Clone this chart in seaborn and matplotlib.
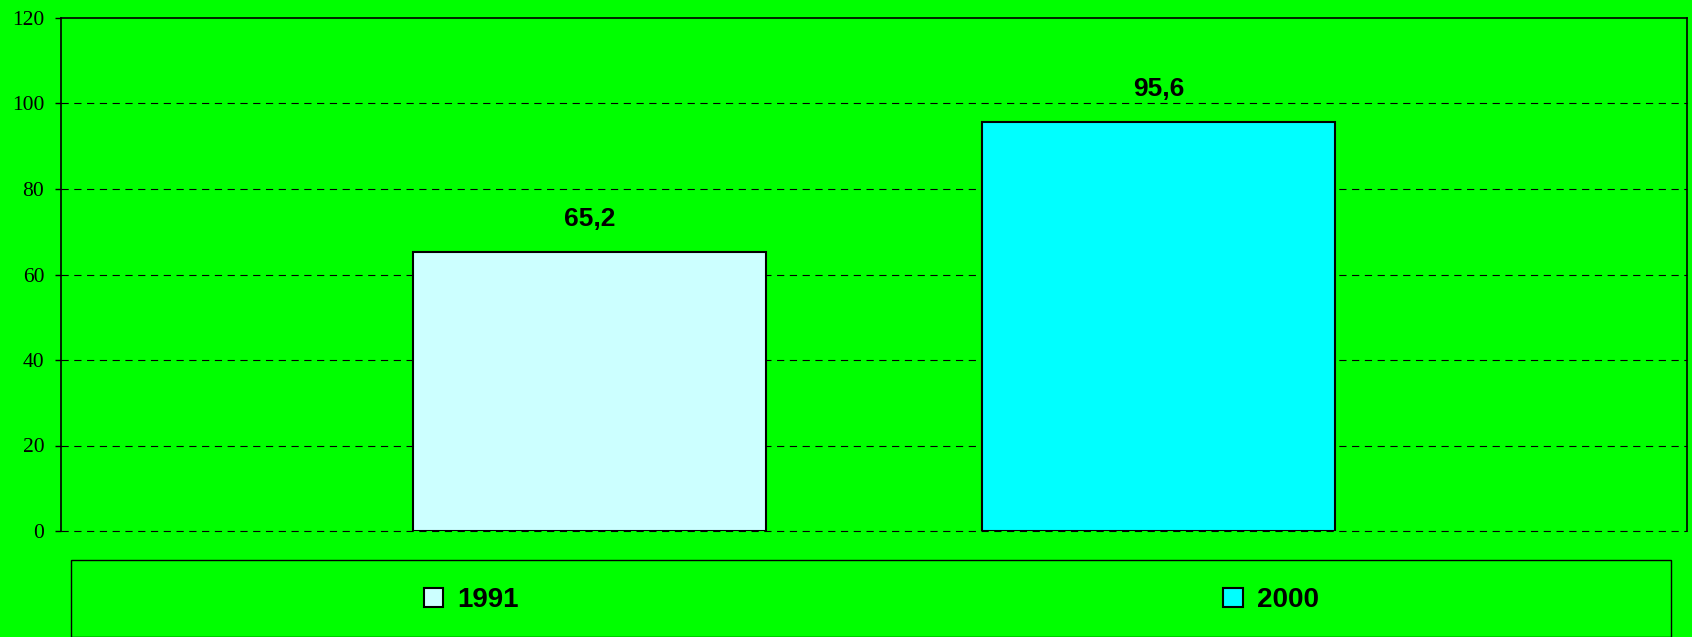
import matplotlib
matplotlib.use("Agg")
import matplotlib.pyplot as plt
import pandas as pd
import seaborn as sns
from matplotlib.patches import Rectangle

years = ["1991", "2000"]
values = [65.2, 95.6]
bar_colors = ["#CCFFFF", "#00FFFF"]
yticks = [0, 20, 40, 60, 80, 100, 120]

df = pd.DataFrame({"group": [""] * len(years), "year": years, "value": values})

sns.set_style("white")
plt.rcParams["font.family"] = ["Liberation Sans", "DejaVu Sans"]
plt.rcParams["text.color"] = "black"
plt.rcParams["ytick.color"] = "black"
plt.rcParams["ytick.labelcolor"] = "black"

W, H = 1692, 637
fig = plt.figure(figsize=(W / 100, H / 100), dpi=100, facecolor="#00FF00")
ax = fig.add_axes([61 / W, (H - 531) / H, 1626 / W, 513 / H])
ax.set_facecolor("#00FF00")

sns.barplot(
    data=df, x="group", y="value", hue="year",
    palette=bar_colors, saturation=1, width=0.7, gap=0.38,
    edgecolor="black", linewidth=1.5, ax=ax, legend=False,
)
ax.set_xlim(-0.5, 0.5)
ax.set_ylim(0, 120)
ax.set_yticks(yticks)
ax.set_xticks([])
ax.set_xlabel("")
ax.set_ylabel("")

# dashed gridlines (the one at 0 replaces the bottom spine)
for y in yticks[:-1]:
    ax.axhline(y, color="black", linewidth=0.8, linestyle=(0, (6.5, 5)),
               zorder=0.5 if y else 3, clip_on=False)

for side in ["left", "top", "right"]:
    ax.spines[side].set_visible(True)
    ax.spines[side].set_color("black")
    ax.spines[side].set_linewidth(1.2)
ax.spines["bottom"].set_visible(False)

ax.tick_params(axis="y", direction="out", length=4, width=1, color="black", pad=8, left=True)
for lbl in ax.get_yticklabels():
    lbl.set_fontfamily(["Liberation Serif", "DejaVu Serif"])
    lbl.set_fontsize(15.5)

# value labels
for bar, v in zip(ax.patches, values):
    ax.annotate(
        f"{v:.1f}".replace(".", ","),
        (bar.get_x() + bar.get_width() / 2, bar.get_height()),
        xytext=(0, 24), textcoords="offset points",
        ha="center", va="center", fontsize=19, fontweight="bold", color="black",
    )

# legend box
fig.patches.append(Rectangle(
    (71 / W, 0), 1600 / W, (H - 560) / H,
    transform=fig.transFigure, facecolor="none", edgecolor="black", linewidth=1,
))
for i, (yr, col) in enumerate(zip(years, bar_colors)):
    handle = Rectangle((0, 0), 1, 1, facecolor=col, edgecolor="black", linewidth=1.5)
    leg = fig.legend(
        [handle], [yr], loc="center", bbox_to_anchor=((71 + 400 + 800 * i) / W, (H - 600) / H),
        frameon=False, prop={"size": 20, "weight": "bold"},
        handlelength=0.7, handleheight=0.7, handletextpad=0.5,
    )
    for t in leg.get_texts():
        t.set_color("black")

fig.savefig("out.png", dpi=100, facecolor="#00FF00")
